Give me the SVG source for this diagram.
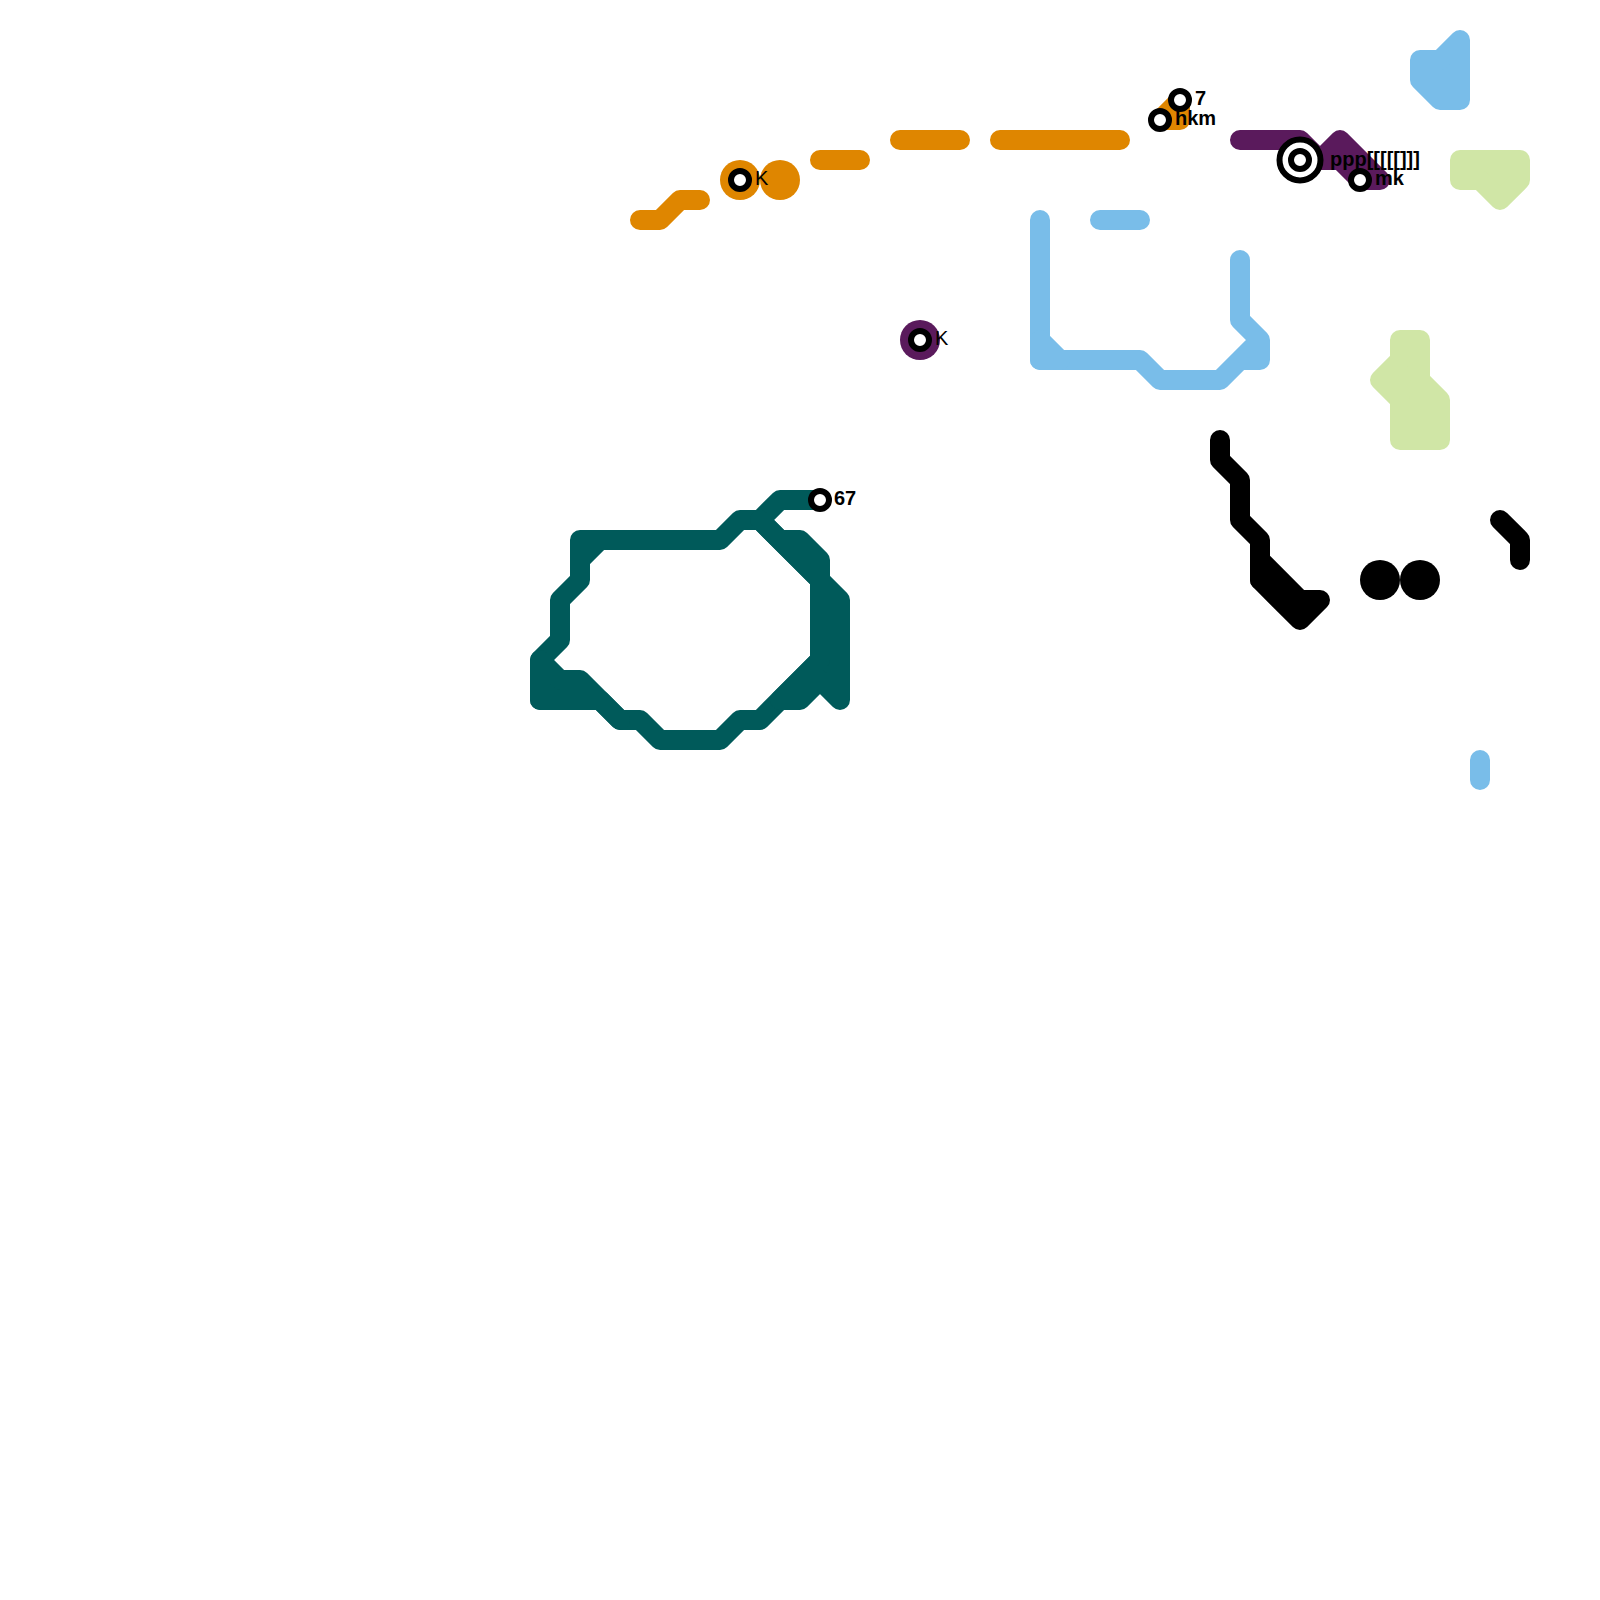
<svg xmlns="http://www.w3.org/2000/svg" width="1600" height="1600" viewBox="0 0 1600 1600">
<style>
.l{fill:none;stroke-width:20;stroke-linecap:round;stroke-linejoin:round}
.teal{stroke:#005a5a}.orange{stroke:#df8600}.blue{stroke:#79bde9}.purple{stroke:#5a1a5c}.lime{stroke:#d0e6a6}.black{stroke:#000}
.fo{fill:#df8600}.fp{fill:#5a1a5c}.fk{fill:#000}.ft{fill:#005a5a}
.fb{fill:#79bde9}.fl{fill:#d0e6a6}
.s{fill:#fff;stroke:#000;stroke-width:6}
.t{font-family:"Liberation Sans",Arial,sans-serif;font-size:20px;font-weight:700;fill:#000}
.n{font-family:"Liberation Sans",Arial,sans-serif;font-size:20px;font-weight:400;fill:#000}
</style>
<rect width="1600" height="1600" fill="#fff"/>
<g id="connectors">
<path class="l teal" d="M820 500H780L760 520H740L720 540H580V580L560 600V640L540 660V700H600L620 720H640L660 740H720L740 720H760L800 680M580 560L600 540M760 520L820 580V660L760 720"/>
<path class="l teal ft" d="M540 660L560 680H580L620 720L600 700H540Z"/>
<path class="l teal ft" d="M760 520L780 540H800L820 560V580L840 600V700L820 680L800 700H780L820 660V580Z"/>
<path class="l orange" d="M640 220H660L680 200H700M820 160H860M900 140H960M1000 140H1120"/>
<path class="l orange fo" d="M1160 120L1180 100V120Z"/>
<path class="l blue" d="M1040 220V360H1140L1160 380H1220L1260 340M1100 220H1140M1240 260V320L1260 340V360H1240M1480 760V780"/>
<path class="l blue fb" d="M1040 340L1060 360H1040Z"/>
<path class="l blue fb" d="M1420 60H1440L1460 40V100H1440L1420 80Z"/>
<path class="l purple" d="M1240 140H1300L1320 160L1340 140L1380 180H1360L1340 160H1300"/>
<path class="l lime fl" d="M1460 160H1520V180L1500 200L1480 180H1460Z"/>
<path class="l lime fl" d="M1400 340H1420V380L1440 400V440H1400V400L1380 380L1400 360Z"/>
<path class="l black" d="M1220 440V460L1240 480V520L1260 540V580M1500 520L1520 540V560"/>
<path class="l black fk" d="M1260 560L1300 600H1320L1300 620L1260 580Z"/>
</g>
<g id="blob-orange-1"><circle class="fo" cx="740" cy="180" r="20"/></g>
<g id="blob-orange-2"><circle class="fo" cx="780" cy="180" r="20"/></g>
<g id="blob-purple"><circle class="fp" cx="920" cy="340" r="20"/></g>
<g id="blob-black-1"><circle class="fk" cx="1380" cy="580" r="20"/></g>
<g id="blob-black-2"><circle class="fk" cx="1420" cy="580" r="20"/></g>
<g id="station-67"><circle class="s" cx="820" cy="500" r="9"/><text class="t" x="834" y="505">67</text></g>
<g id="station-k1"><circle class="s" cx="740" cy="180" r="9"/><text class="n" x="755" y="185">K</text></g>
<g id="station-k2"><circle class="s" cx="920" cy="340" r="9"/><text class="n" x="935" y="345">K</text></g>
<g id="station-hkm"><circle class="s" cx="1160" cy="120" r="9"/><text class="t" x="1175" y="125">hkm</text></g>
<g id="station-7"><circle class="s" cx="1180" cy="100" r="9"/><text class="t" x="1195" y="105">7</text></g>
<g id="station-ppp"><circle class="s" cx="1300" cy="160" r="20.5"/><circle class="s" cx="1300" cy="160" r="9"/><text class="t" x="1330" y="166">ppp[[[[[]]]</text></g>
<g id="station-mk"><circle class="s" cx="1360" cy="180" r="9"/><text class="t" x="1375" y="185">mk</text></g>
</svg>
